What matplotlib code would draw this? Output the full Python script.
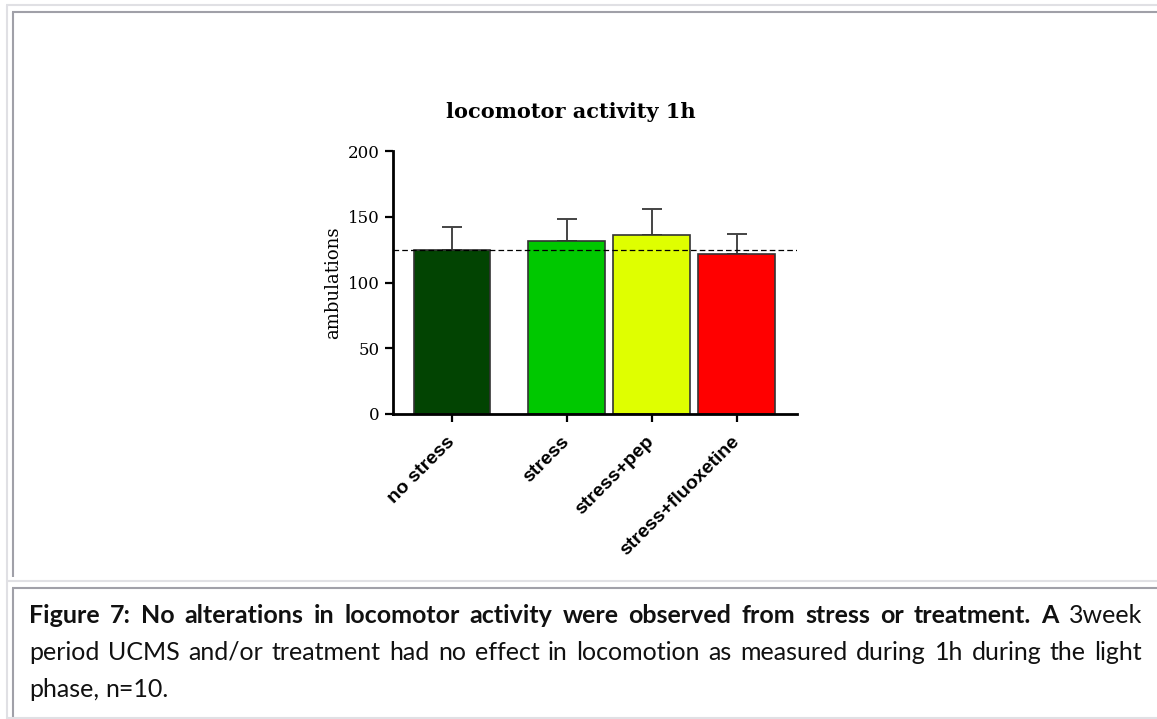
import matplotlib.pyplot as plt
from matplotlib.lines import Line2D

# locomotor activity over 1h, mean + SEM per group
groups = ["no stress", "stress", "stress+pep", "stress+fluoxetine"]
means = [124.5, 131.7, 136.5, 122.0]
sems = [17.5, 16.6, 19.5, 14.8]
colors = ["#024402", "#00C800", "#DFFF00", "#FF0000"]
yticks = [0, 50, 100, 150, 200]

caption_lines = [
    [("Figure 7: No alterations in locomotor activity were observed from stress or treatment. A", True),
     ("3week", False)],
    [("period UCMS and/or treatment had no effect in locomotion as measured during 1h during the light", False)],
    [("phase, n=10.", False)],
]

W, H = 1157, 719
fig = plt.figure(figsize=(W / 100, H / 100), dpi=100)


def fx(x):
    return x / W


def fy(y):
    return 1 - y / H


# table frame around the figure and its caption
light, dark = "#E0E0E4", "#A0A0A8"
frame = [
    ((6, W), (5, 5), light), ((7, 7), (5, H), light),
    ((12, W), (12, 12), dark), ((12.5, 12.5), (12, 577), dark),
    ((7, W), (581, 581), light), ((12, W), (588, 588), dark),
    ((12.5, 12.5), (588, 717), dark), ((7, W), (717.5, 717.5), light),
]
for xs, ys, c in frame:
    fig.add_artist(Line2D([fx(x) for x in xs], [fy(y) for y in ys], color=c, lw=1.5,
                          solid_capstyle="butt"))

ax = fig.add_axes([fx(393), fy(414), fx(797) - fx(393), fy(151) - fy(414)])
pos = [0, 1.35, 2.35, 3.35]
ax.bar(pos, means, width=0.9, color=colors, edgecolor="#333333", linewidth=1.2, zorder=2)
ax.errorbar(pos, means, yerr=[[0] * len(sems), sems], fmt="none", ecolor="#444444",
            elinewidth=1.4, capsize=7, capthick=1.4, zorder=1)
ax.axhline(means[0], color="black", lw=0.9, ls=(0, (4.5, 2.5)), zorder=3)

ax.set_xlim(-0.694, 4.06)
ax.set_ylim(0, 200)
ax.set_yticks(yticks)
ax.set_xticks(pos)
ax.set_xticklabels(groups, rotation=45, ha="right", va="center", rotation_mode="anchor",
                   fontfamily="Liberation Sans", fontweight="bold", fontsize=14)
ax.tick_params(axis="x", pad=12)
for lab in ax.get_yticklabels():
    lab.set_fontfamily("DejaVu Serif")
    lab.set_fontsize(12)
ax.tick_params(length=6, width=1.6, direction="out", color="black")
for side in ["top", "right"]:
    ax.spines[side].set_visible(False)
for side in ["left", "bottom"]:
    ax.spines[side].set_linewidth(2)
ax.set_ylabel("ambulations", fontfamily="DejaVu Serif", fontsize=13)
ax.yaxis.set_label_coords(-0.125, 0.5)
ax.set_title("locomotor activity 1h", fontfamily="DejaVu Serif", fontweight="bold",
             fontsize=15, x=0.44, pad=24)

# justified caption, placed word by word
renderer = fig.canvas.get_renderer()
left, right = 29, 1142
baselines = [623, 660, 697]
cap_font = dict(family="Lato", size=18)
for i, line in enumerate(caption_lines):
    words = []
    for text, bold in line:
        for w in text.split():
            t = fig.text(0, 0, w, fontweight="bold" if bold else "normal",
                         va="baseline", ha="left", color="#111111", **cap_font)
            words.append((t, t.get_window_extent(renderer).width))
    total = sum(w for _, w in words)
    if i < len(caption_lines) - 1:
        gap = (right - left - total) / (len(words) - 1)
    else:
        gap = 6
    x = left
    for t, w in words:
        t.set_position((fx(x), fy(baselines[i])))
        x += w + gap

fig.savefig("out.png", dpi=100)
